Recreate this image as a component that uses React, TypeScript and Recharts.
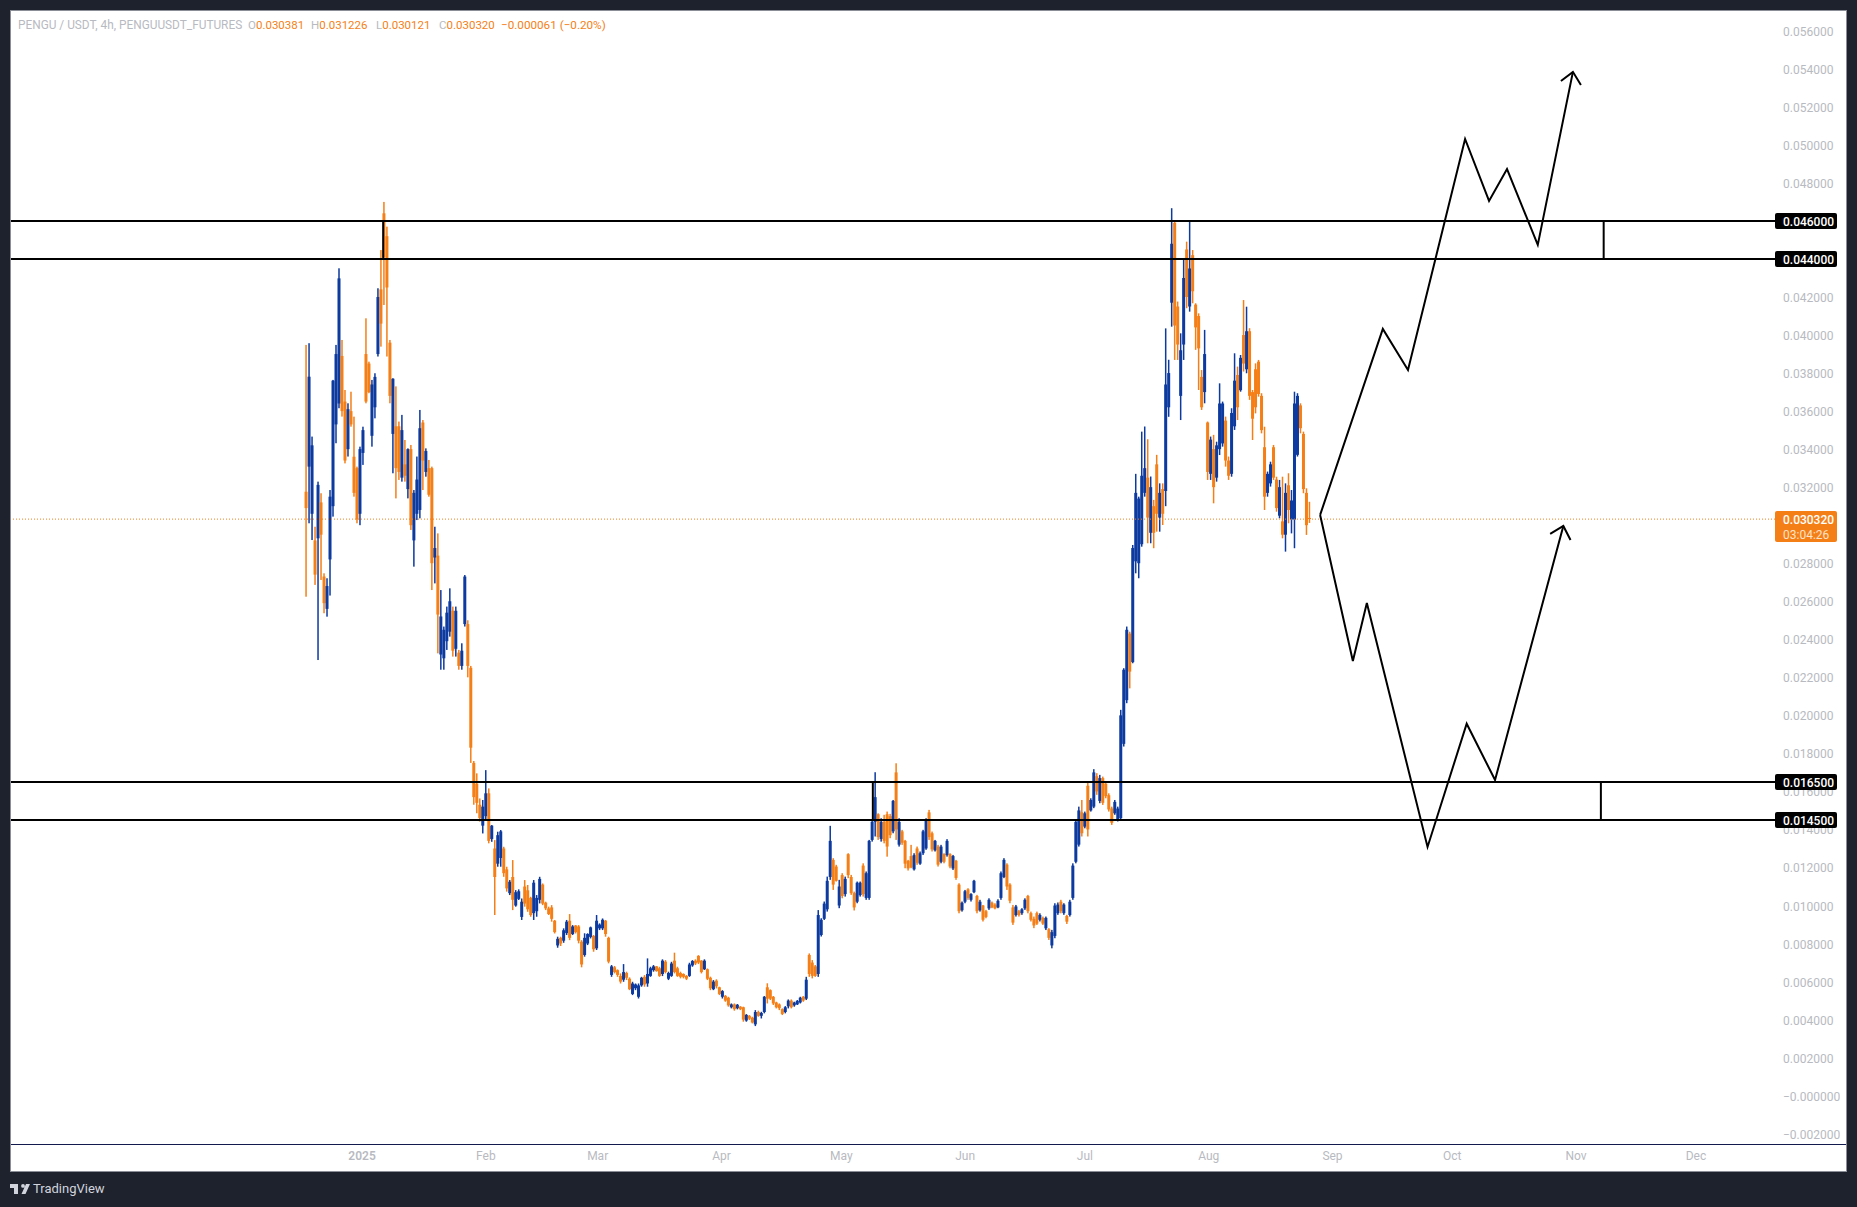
import { Bar, ComposedChart, Line, ReferenceLine, XAxis, YAxis } from 'recharts';

// rows are [high, low, open, close] in units of 0.00001 USDT, one row per 18h
const decBars = [
  [3948, 2624, 3176, 3090], [3957, 3010, 3308, 3781], [3466, 2922, 3060, 3420], [2992, 2686, 2920, 2740],
  [3229, 2291, 2931, 3212], [3168, 2712, 3120, 2950], [2747, 2537, 2730, 2590], [2721, 2519, 2560, 2680],
  [3185, 2630, 2820, 3150], [3764, 3045, 3100, 3760], [3948, 3431, 3530, 3900], [4351, 3615, 3640, 4298],
  [3974, 3571, 3890, 3600], [3711, 3325, 3650, 3340], [3641, 3361, 3400, 3610], [3702, 3518, 3600, 3530],
  [3571, 3150, 3360, 3170], [3308, 3010, 3300, 3030], [3413, 3000, 3060, 3400],
];
const janBars = [
  [3518, 3317, 3380, 3500], [4088, 3641, 3900, 3650], [3860, 3694, 3850, 3700], [3764, 3413, 3470, 3740],
  [3799, 3562, 3620, 3780], [4246, 3887, 3900, 4200], [4447, 3939, 4240, 4060], [4700, 4158, 4640, 4410],
  [4570, 3887, 4520, 4250], [3974, 3641, 3960, 3680], [3773, 3273, 3480, 3770], [3730, 3141, 3520, 3300],
  [3545, 3238, 3520, 3280], [3580, 3229, 3250, 3500], [3448, 3229, 3320, 3260], [3404, 3141, 3190, 3400],
  [3422, 2975, 3400, 3000], [3185, 2782, 2920, 3170], [3361, 3027, 3060, 3240], [3606, 3036, 3080, 3510],
  [3553, 3185, 3540, 3340], [3404, 3255, 3280, 3390], [3343, 3150, 3300, 3160], [3308, 2659, 3300, 2800],
  [2992, 2694, 2830, 2880], [2957, 2326, 2840, 2530], [2659, 2240, 2320, 2520], [2467, 2240, 2300, 2450],
  [2572, 2344, 2390, 2540], [2668, 2414, 2440, 2600], [2572, 2309, 2550, 2340], [2572, 2309, 2350, 2550],
  [2344, 2240, 2330, 2260], [2379, 2240, 2260, 2340], [2738, 2467, 2480, 2730], [2500, 2200, 2480, 2260],
  [2260, 1750, 2250, 1830], [1760, 1530, 1750, 1570], [1695, 1485, 1640, 1540], [1563, 1441, 1530, 1460],
  [1555, 1379, 1420, 1520],
];
const febBars = [
  [1712, 1449, 1470, 1590], [1616, 1327, 1590, 1340], [1423, 1335, 1350, 1420], [1344, 950, 1300, 1150],
  [1388, 1204, 1220, 1370], [1397, 1204, 1250, 1390], [1309, 1151, 1300, 1170], [1204, 1073, 1190, 1090],
  [1134, 1055, 1065, 1125], [1239, 976, 1150, 1030], [1081, 994, 1000, 1070], [1085, 1029, 1035, 1075],
  [1037, 924, 940, 1020], [1134, 994, 1100, 1010], [1108, 967, 1080, 980], [1046, 941, 1040, 950],
  [1134, 924, 960, 1120], [1055, 941, 970, 1040], [1151, 1011, 1030, 1140], [1116, 1002, 1110, 1010],
  [1020, 976, 1015, 985], [994, 950, 985, 955], [1002, 915, 990, 930], [924, 853, 920, 860],
  [836, 778, 790, 825], [836, 787, 830, 800], [880, 804, 815, 870], [924, 845, 855, 915],
  [955, 818, 920, 830], [897, 845, 850, 890], [897, 853, 895, 860], [897, 801, 890, 815],
  [818, 675, 810, 690], [854, 731, 740, 830], [854, 792, 800, 850], [889, 827, 835, 885],
  [845, 757, 840, 770],
];
const marBars = [
  [950, 766, 775, 920], [906, 871, 880, 900], [932, 871, 880, 925], [924, 836, 920, 850],
  [836, 696, 830, 705], [687, 625, 635, 680], [682, 643, 675, 650], [664, 625, 660, 635],
  [643, 590, 630, 600], [692, 599, 610, 650], [652, 608, 645, 620], [622, 555, 615, 560],
  [599, 529, 535, 590], [590, 555, 565, 585], [590, 511, 520, 580], [625, 573, 580, 620],
  [634, 573, 625, 585], [722, 573, 590, 640], [678, 625, 630, 670], [687, 652, 660, 680],
  [682, 652, 680, 655], [678, 625, 670, 630], [717, 629, 640, 710], [713, 643, 705, 650],
  [652, 608, 615, 645], [704, 625, 630, 695], [752, 643, 710, 650], [678, 625, 670, 630],
  [652, 617, 645, 625], [643, 617, 640, 625], [634, 608, 630, 615], [699, 625, 630, 690],
  [713, 678, 685, 708], [717, 687, 710, 695], [739, 692, 735, 700], [713, 643, 710, 650],
  [717, 661, 665, 710], [669, 608, 665, 615], [626, 555, 620, 565], [608, 555, 560, 600],
  [612, 564, 605, 575], [573, 529, 570, 535],
];
const aprBars = [
  [555, 511, 520, 550], [529, 494, 525, 500], [520, 468, 515, 475], [485, 459, 465, 480],
  [485, 447, 480, 455], [482, 454, 460, 478], [471, 450, 468, 455], [468, 389, 465, 400],
  [429, 389, 395, 425], [424, 398, 420, 405], [415, 380, 410, 385], [450, 366, 375, 440],
  [447, 415, 440, 420], [441, 406, 420, 435], [524, 433, 440, 520], [591, 485, 570, 510],
  [559, 503, 555, 510], [524, 477, 520, 485], [494, 459, 490, 465], [485, 450, 480, 460],
  [459, 424, 455, 430], [471, 433, 440, 465], [506, 459, 470, 500], [506, 459, 500, 465],
  [494, 468, 475, 490], [503, 477, 480, 498], [520, 485, 490, 515], [524, 494, 520, 500],
  [625, 503, 510, 610], [748, 625, 740, 640], [713, 617, 700, 630], [687, 625, 680, 630],
  [976, 625, 640, 950], [933, 837, 845, 925], [1021, 924, 930, 1010], [1152, 968, 980, 1130],
  [1419, 1135, 1150, 1340], [1249, 1082, 1240, 1110], [1214, 1126, 1205, 1130], [1135, 986, 1000, 1100],
];
const mayBars = [
  [1170, 1038, 1160, 1050], [1152, 1047, 1060, 1140], [1275, 1144, 1270, 1160], [1161, 1056, 1150, 1065],
  [1073, 974, 1065, 990], [1126, 1012, 1020, 1120], [1126, 1047, 1055, 1120], [1222, 1047, 1210, 1060],
  [1179, 1030, 1040, 1170], [1345, 1030, 1040, 1340], [1450, 1336, 1345, 1440], [1701, 1363, 1440, 1570],
  [1485, 1345, 1480, 1360], [1459, 1336, 1350, 1440], [1477, 1327, 1440, 1340], [1494, 1257, 1480, 1310],
  [1482, 1354, 1470, 1370], [1555, 1380, 1390, 1550], [1748, 1345, 1700, 1400], [1459, 1310, 1320, 1440],
  [1398, 1319, 1390, 1330], [1345, 1196, 1340, 1220], [1240, 1184, 1235, 1195], [1319, 1196, 1260, 1200],
  [1275, 1184, 1190, 1265], [1310, 1214, 1300, 1225], [1284, 1214, 1220, 1275], [1398, 1266, 1275, 1390],
  [1459, 1293, 1300, 1450], [1503, 1345, 1490, 1360], [1389, 1284, 1380, 1295], [1345, 1284, 1290, 1340],
  [1319, 1205, 1310, 1215], [1319, 1222, 1230, 1310], [1275, 1222, 1270, 1230], [1349, 1257, 1265, 1340],
  [1275, 1196, 1270, 1205], [1266, 1187, 1195, 1260], [1240, 1135, 1235, 1145], [1117, 959, 1110, 970],
  [1021, 968, 975, 1015],
];
const junBars = [
  [1082, 1012, 1020, 1075], [1091, 1030, 1085, 1040], [1065, 1021, 1030, 1060], [1135, 1065, 1070, 1130],
  [1056, 959, 1050, 970], [1030, 968, 975, 1020], [1003, 916, 1000, 925], [977, 933, 970, 940],
  [1038, 977, 985, 1030], [1021, 986, 1015, 990], [1012, 980, 1005, 985], [1033, 986, 990, 1025],
  [1179, 1030, 1040, 1170], [1249, 1144, 1150, 1240], [1222, 1082, 1215, 1100], [1117, 1012, 1110, 1025],
  [1003, 898, 990, 910], [1003, 942, 950, 995], [977, 942, 970, 950], [986, 951, 960, 980],
  [1038, 977, 985, 1030], [1056, 959, 1050, 970], [968, 916, 960, 925], [942, 881, 930, 895],
  [968, 898, 960, 905], [959, 916, 925, 950], [942, 898, 935, 905], [942, 871, 880, 935],
  [881, 819, 875, 830], [872, 775, 790, 860], [1012, 828, 840, 1000], [1016, 951, 960, 1005],
  [1030, 959, 1020, 970], [1012, 951, 960, 1005], [951, 903, 945, 915], [1030, 942, 950, 1020],
  [1222, 1030, 1040, 1210], [1450, 1222, 1230, 1440], [1520, 1310, 1320, 1500], [1555, 1363, 1490, 1380],
];
const julBars = [
  [1494, 1406, 1415, 1485], [1652, 1363, 1630, 1400], [1564, 1494, 1500, 1555], [1717, 1512, 1520, 1700],
  [1696, 1582, 1680, 1600], [1687, 1538, 1550, 1670], [1678, 1529, 1670, 1540], [1652, 1564, 1640, 1575],
  [1590, 1494, 1580, 1505], [1520, 1424, 1510, 1435], [1555, 1477, 1485, 1545], [1520, 1442, 1450, 1510],
  [2029, 1450, 1460, 2000], [2248, 1836, 1850, 2240], [2467, 2064, 2080, 2450], [2440, 2142, 2430, 2230],
  [2896, 2274, 2280, 2880], [3270, 2747, 2810, 3170], [3150, 2721, 2800, 3140], [3492, 2887, 2900, 3260],
  [3519, 3150, 3170, 3300], [3452, 2905, 3250, 3040], [3256, 2905, 2960, 3200], [3133, 2879, 3100, 2960],
  [3370, 2966, 3320, 3060], [3220, 2966, 3040, 3170], [3220, 3001, 3190, 3060], [4035, 3100, 3180, 3740],
  [3870, 3570, 3620, 3800], [4667, 4044, 4170, 4480], [4596, 3869, 4590, 4050], [4176, 3869, 4150, 3950],
  [4009, 3553, 3680, 3920], [4404, 3869, 3950, 4300], [4491, 4141, 4450, 4200], [4596, 4123, 4150, 4350],
  [4447, 4167, 4420, 4230], [4167, 3922, 4160, 4040], [4114, 3711, 4100, 3930], [3816, 3606, 3780, 3620],
  [4027, 3641, 3700, 3900],
];
const augBars = [
  [3545, 3238, 3540, 3280], [3466, 3238, 3270, 3450], [3475, 3115, 3400, 3200], [3439, 3229, 3250, 3420],
  [3746, 3369, 3400, 3640], [3650, 3413, 3430, 3640], [3571, 3308, 3550, 3340], [3361, 3238, 3340, 3260],
  [3615, 3255, 3270, 3590], [3904, 3501, 3520, 3760], [3834, 3553, 3790, 3620], [3895, 3702, 3710, 3880],
  [4184, 3808, 4000, 3850], [4149, 3799, 3820, 4020], [4036, 3659, 4020, 3680], [3711, 3448, 3700, 3560],
  [3851, 3588, 3820, 3620], [3869, 3676, 3860, 3690], [3694, 3483, 3680, 3500], [3518, 3080, 3410, 3150],
  [3282, 3150, 3170, 3270], [3334, 3203, 3220, 3320], [3422, 3238, 3410, 3250], [3255, 3071, 3240, 3090],
  [3238, 3036, 3050, 3200], [3255, 2931, 3020, 2950], [3220, 2861, 2950, 3170], [3273, 3010, 3210, 3080],
  [3185, 2957, 3030, 3130], [3702, 2879, 3030, 3640], [3694, 3361, 3370, 3680], [3641, 3483, 3630, 3510],
  [3492, 3168, 3480, 3190], [3194, 2949, 3170, 3000], [3123, 3012, 3038, 3032],
];

const firstDay = -14;
const barStepDays = 0.75;
const UP = '#0d3a9f';
const DOWN = '#f57f17';

const candles = [...decBars, ...janBars, ...febBars, ...marBars, ...aprBars, ...mayBars, ...junBars, ...julBars, ...augBars].map(
  ([high, low, open, close], i) => ({
    day: firstDay + i * barStepDays,
    high: high / 1e5,
    low: low / 1e5,
    open: open / 1e5,
    close: close / 1e5,
  }),
);

// drawn scenarios, day = days since 1 Jan 2025
const upPath = [
  { day: 239.9, price: 0.03054 }, { day: 255.6, price: 0.04032 }, { day: 261.9, price: 0.03816 },
  { day: 276.2, price: 0.05031 }, { day: 282.2, price: 0.04705 }, { day: 286.7, price: 0.04873 },
  { day: 294.4, price: 0.04474 }, { day: 303.2, price: 0.05384 },
];
const upHead = [
  { day: 300.2, price: 0.05336 }, { day: 303.2, price: 0.05384 }, { day: 305.2, price: 0.05315 },
];
const downPath = [
  { day: 239.9, price: 0.03054 }, { day: 248.1, price: 0.02286 }, { day: 251.6, price: 0.02591 },
  { day: 266.8, price: 0.01308 }, { day: 276.6, price: 0.01956 }, { day: 283.7, price: 0.01660 },
  { day: 300.8, price: 0.02996 },
];
const downHead = [
  { day: 297.5, price: 0.02954 }, { day: 300.8, price: 0.02996 }, { day: 302.6, price: 0.02922 },
];

const priceTicks = [
  -0.002, 0, 0.002, 0.004, 0.006, 0.008, 0.01, 0.012, 0.014, 0.016, 0.018, 0.02, 0.022, 0.024, 0.026, 0.028,
  0.032, 0.034, 0.036, 0.038, 0.04, 0.042, 0.048, 0.05, 0.052, 0.054, 0.056,
];
const levelPrices = [0.046, 0.044, 0.0165, 0.0145];
const lastPrice = 0.03032;
const countdown = '03:04:26';
const monthDays = [0, 31, 59, 90, 120, 151, 181, 212, 243, 273, 304, 334];
const monthLabels = ['2025', 'Feb', 'Mar', 'Apr', 'May', 'Jun', 'Jul', 'Aug', 'Sep', 'Oct', 'Nov', 'Dec'];
const upperZone = { top: 0.046, bottom: 0.044, leftDay: 5.3, rightDay: 310.9 };
const lowerZone = { top: 0.0165, bottom: 0.0145, leftDay: 127.9, rightDay: 310.2 };
const ohlcKeys = ['O', 'H', 'L', 'C'];
const ohlcValues = ['0.030381', '0.031226', '0.030121', '0.030320'];
const changeText = '\u22120.000061 (\u22120.20%)';
const FONT = 'Roboto, sans-serif';
const GREY = '#b8bac1';

function Candle(props: any) {
  const { x, y, width, height, payload } = props;
  const { high, low, open, close } = payload;
  const px = Math.abs(height) / (high - low);
  const top = Math.min(y, y + height);
  const bodyTop = top + (high - Math.max(open, close)) * px;
  const bodyH = Math.max(1, Math.abs(open - close) * px);
  const cx = x + width / 2;
  const color = close >= open ? UP : DOWN;
  return (
    <g>
      <rect x={cx - 0.75} y={top} width={1.5} height={Math.abs(height)} fill={color} />
      <rect x={cx - 1.5} y={bodyTop} width={3} height={bodyH} fill={color} />
    </g>
  );
}

function formatPrice(v: number) {
  return v <= 0 ? `\u2212${Math.abs(v).toFixed(6)}` : v.toFixed(6);
}

function PriceTick({ x, y, payload }: any) {
  const v = payload.value;
  if (levelPrices.includes(v)) {
    return (
      <g>
        <rect x={x - 8} y={y - 8} width={62} height={16} rx={2} fill="#000" />
        <text x={x} y={y + 5} fontFamily={FONT} fontSize={12} fontWeight={500} fill="#fff">{v.toFixed(6)}</text>
      </g>
    );
  }
  if (v === lastPrice) {
    return (
      <g>
        <rect x={x - 8} y={y - 8} width={62} height={31} rx={2} fill={DOWN} />
        <text x={x} y={y + 5} fontFamily={FONT} fontSize={12} fontWeight={500} fill="#fff">{v.toFixed(6)}</text>
        <text x={x} y={y + 20} fontFamily={FONT} fontSize={12} fill="#fde3c8">{countdown}</text>
      </g>
    );
  }
  return <text x={x} y={y + 5} fontFamily={FONT} fontSize={12} fill={GREY}>{formatPrice(v)}</text>;
}

function MonthTick({ x, y, payload }: any) {
  const label = monthLabels[monthDays.indexOf(payload.value)];
  return (
    <text x={x} y={y + 8} textAnchor="middle" fontFamily={FONT} fontSize={12} fontWeight={label === '2025' ? 600 : 400} fill={GREY}>
      {label}
    </text>
  );
}

const legendLeft = [248, 311, 376, 439];

export default function App() {
  const legendText = { position: 'absolute', top: 18, font: `11.5px ${FONT}`, lineHeight: '14px', whiteSpace: 'nowrap', color: GREY } as const;
  return (
    <div style={{ position: 'absolute', left: 0, top: 0, width: 1857, height: 1207, background: '#1e222d', overflow: 'hidden' }}>
      <div style={{ position: 'absolute', left: 10, top: 10, width: 1835, height: 1160, background: '#fff', border: '1px solid #8b8e96' }} />
      <div style={{ position: 'absolute', left: 11, top: 1144, width: 1835, height: 1, background: '#131a4e' }} />

      <span style={{ ...legendText, left: 18, fontSize: 11.85 }}>PENGU / USDT, 4h, PENGUUSDT_FUTURES</span>
      {ohlcKeys.map((k, i) => (
        <span key={k} style={{ ...legendText, left: legendLeft[i] }}>
          {k}<span style={{ color: DOWN }}>{ohlcValues[i]}</span>
        </span>
      ))}
      <span style={{ ...legendText, left: 501, fontSize: 11.7, color: DOWN }}>{changeText}</span>

      <ComposedChart
        width={1857}
        height={1207}
        data={candles}
        margin={{ top: 11, right: 11, bottom: 36, left: 11 }}
        style={{ position: 'absolute', left: 0, top: 0 }}
      >
        <XAxis
          dataKey="day"
          type="number"
          domain={[-87.9, 353.8]}
          allowDataOverflow
          ticks={monthDays}
          interval={0}
          height={27}
          axisLine={false}
          tickLine={false}
          tick={MonthTick}
        />
        <YAxis
          orientation="right"
          type="number"
          domain={[-0.002541, 0.05704]}
          allowDataOverflow
          ticks={[...priceTicks, lastPrice, ...levelPrices]}
          interval={0}
          width={71}
          axisLine={false}
          tickLine={false}
          tickSize={0}
          tickMargin={8}
          tick={PriceTick}
        />
        <Bar dataKey={(d: any) => [d.low, d.high]} barSize={2} shape={Candle} isAnimationActive={false} />
        <ReferenceLine y={lastPrice} stroke={DOWN} strokeDasharray="1 2" />
        {levelPrices.map((p) => (
          <ReferenceLine key={p} y={p} stroke="#000" strokeWidth={2} />
        ))}
        {[upperZone, lowerZone].flatMap((z) =>
          [z.leftDay, z.rightDay].map((d) => (
            <ReferenceLine key={`${z.top}-${d}`} segment={[{ x: d, y: z.top }, { x: d, y: z.bottom }]} stroke="#000" strokeWidth={2} />
          )),
        )}
        {[upPath, upHead, downPath, downHead].map((path, i) => (
          <Line
            key={i}
            data={path}
            dataKey="price"
            type="linear"
            dot={false}
            activeDot={false}
            stroke="#000"
            strokeWidth={2}
            isAnimationActive={false}
          />
        ))}
      </ComposedChart>

      <svg style={{ position: 'absolute', left: 10, top: 1183 }} width={20} height={12} viewBox="0 0 20 12">
        <path d="M0 1h8v10H4V5H0z M13 1a1.9 1.9 0 1 1 0 3.8a1.9 1.9 0 0 1 0-3.8z M16 1h4l-4.5 10h-4z" fill="#d1d4dc" />
      </svg>
      <div style={{ position: 'absolute', left: 33, top: 1181, font: `13px ${FONT}`, color: '#d1d4dc', lineHeight: '16px' }}>TradingView</div>
    </div>
  );
}
